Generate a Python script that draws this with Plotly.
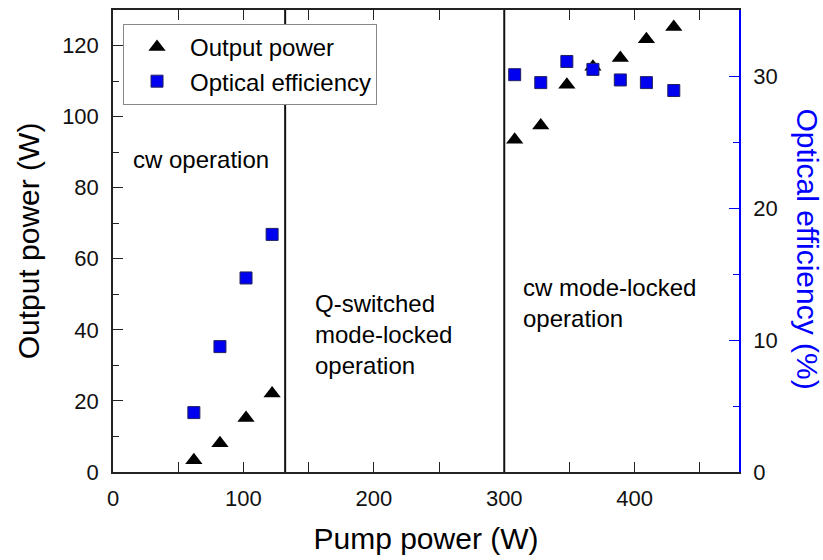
import plotly.graph_objects as go

# ---- data ----
pump_power = [62, 82, 102, 122, 308, 328, 348, 368, 389, 409, 430]
output_power = [3.3, 8.1, 15.2, 22.1, 93.5, 97.5, 109.0, 114.0, 116.5, 121.8, 125.2]
optical_eff = [4.5, 9.5, 14.7, 18.0, 30.1, 29.5, 31.1, 30.5, 29.7, 29.5, 28.9]
regime_bounds = [132, 300]
series_names = ["Output power", "Optical efficiency"]

FONT = "Liberation Sans, Arial, sans-serif"

fig = go.Figure()
fig.add_trace(go.Scatter(
    x=pump_power, y=output_power, mode="markers", name=series_names[0],
    marker=dict(symbol="triangle-up", size=15, color="black",
                line=dict(width=0)),
    yaxis="y"))
fig.add_trace(go.Scatter(
    x=pump_power, y=optical_eff, mode="markers", name=series_names[1],
    marker=dict(symbol="square", size=12, color="#0000f0",
                line=dict(width=1, color="#202060")),
    yaxis="y2"))

for b in regime_bounds:
    fig.add_shape(type="line", x0=b, x1=b, xref="x", yref="paper", y0=0, y1=1,
                  line=dict(color="#111", width=2))

ann_font = dict(family=FONT, size=24, color="black")
fig.add_annotation(x=14, y=88, xref="x", yref="y", text="cw operation",
                   showarrow=False, xanchor="left", yanchor="middle", font=ann_font)
fig.add_annotation(x=153, y=38.6, xref="x", yref="y",
                   text="Q-switched<br>mode-locked<br>operation",
                   showarrow=False, xanchor="left", yanchor="middle", align="left",
                   font=ann_font)
fig.add_annotation(x=313, y=47.6, xref="x", yref="y",
                   text="cw mode-locked<br>operation",
                   showarrow=False, xanchor="left", yanchor="middle", align="left",
                   font=ann_font)
fig.add_annotation(x=1.11, y=0.482, xref="paper", yref="paper",
                   text="Optical efficiency (%)", textangle=90, showarrow=False,
                   xanchor="center", yanchor="middle",
                   font=dict(family=FONT, size=30, color="#0000ff"))

axis_common = dict(
    ticks="inside", ticklen=10, tickwidth=1.3, showline=True, linewidth=1.5,
    showgrid=False, zeroline=False,
    tickfont=dict(family=FONT, size=22, color="#111"),
)

fig.update_layout(
    width=823, height=560,
    margin=dict(l=113, r=84, t=8, b=88),
    plot_bgcolor="white", paper_bgcolor="white",
    font=dict(family=FONT, color="black"),
    showlegend=True,
    legend=dict(x=0.016, y=0.97, xanchor="left", yanchor="top",
                bgcolor="white", bordercolor="#888", borderwidth=1,
                font=dict(family=FONT, size=24, color="black"),
                itemwidth=56, tracegroupgap=0),
    xaxis=dict(range=[0, 480], dtick=100, tick0=0, linecolor="#222", tickcolor="#222",
               mirror="allticks",
               minor=dict(dtick=50, ticks="inside", ticklen=6, tickcolor="#222"),
               ticklabelstandoff=6,
               title=dict(text="Pump power (W)", font=dict(family=FONT, size=30),
                          standoff=18),
               **axis_common),
    yaxis=dict(range=[0, 130], dtick=20, tick0=0, linecolor="#222", tickcolor="#222",
               minor=dict(dtick=10, ticks="inside", ticklen=6, tickcolor="#222"),
               ticklabelstandoff=8,
               title=dict(text="Output power (W)", font=dict(family=FONT, size=30),
                          standoff=14),
               **axis_common),
    yaxis2=dict(range=[0, 35], dtick=10, tick0=0, overlaying="y", side="right",
                linecolor="#0000ff", tickcolor="#0000ff",
                minor=dict(dtick=5, ticks="inside", ticklen=6, tickcolor="#0000ff"),
                ticklabelstandoff=8,
                **axis_common),
)

fig.write_html("out.html")
